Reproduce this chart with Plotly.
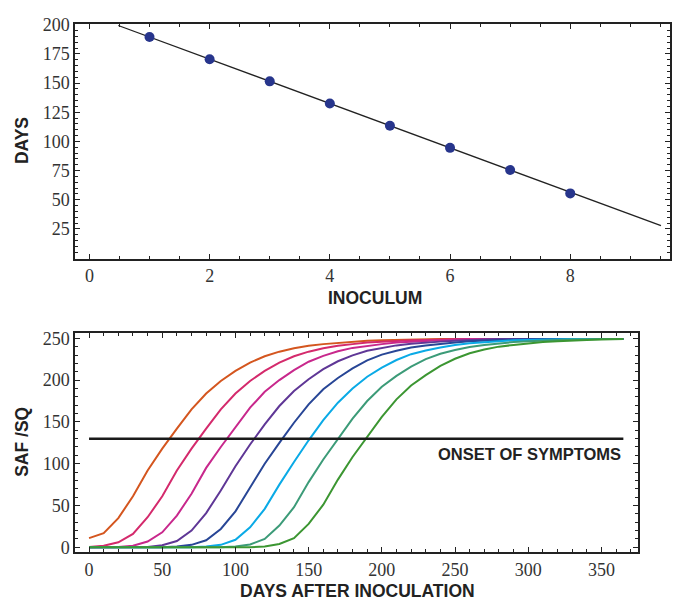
import plotly.graph_objects as go

# --- top panel: days to onset vs inoculum ---
inoculum = [1, 2, 3, 4, 5, 6, 7, 8]
onset_days = [189.5, 170.5, 151.5, 132.5, 113.5, 94.5, 75.5, 55.5]
fit_x = [0.48, 9.51]
fit_y = [199.4, 27.8]

# --- bottom panel: SAF/SQ vs days after inoculation ---
days = [0, 10, 20, 30, 40, 50, 60, 70, 80, 90, 100, 110, 120, 130, 140, 150, 160, 170, 180,
        190, 200, 210, 220, 230, 240, 250, 260, 270, 280, 290, 300, 310, 320, 330, 340, 350, 360, 365]

saf_inoc8 = [11, 17, 35, 61, 92, 118, 142, 165, 184, 199, 211, 221, 228.5, 234, 238, 241, 243, 244.5, 246,
             247, 247.5, 248, 248.5, 249, 249, 249, 249, 249, 249, 249, 249, 249, 249, 249, 249, 249, 249, 249]
saf_inoc7 = [0.5, 2, 6, 16, 36, 61, 92, 118, 142, 165, 184, 199, 211, 221, 228.5, 234, 238, 241, 243,
             245, 246, 247, 247.5, 248, 248.5, 249, 249, 249, 249, 249, 249, 249, 249, 249, 249, 249, 249, 249]
saf_inoc6 = [0, 0, 0.5, 2, 7, 18, 38, 64, 95, 120, 144, 167, 186, 200, 212, 222, 229, 234.5, 238.5,
             241, 243, 245, 246, 247, 248, 248.5, 249, 249, 249, 249, 249, 249, 249, 249, 249, 249, 249, 249]
saf_inoc5 = [0, 0, 0, 0, 0.5, 2.5, 7.5, 20, 41, 68, 97, 123, 147, 169, 187, 201, 213, 222.5, 229.5,
             235, 238.5, 241.5, 243.5, 245, 246, 247, 248, 248.5, 249, 249, 249, 249, 249, 249, 249, 249, 249, 249]
saf_inoc4 = [0, 0, 0, 0, 0, 0, 1, 3, 8.5, 22, 43, 71, 100, 125, 149, 171, 189, 202.5, 214,
             223.5, 230.5, 235, 239, 241.5, 243.5, 245, 246.5, 247.5, 248, 248.5, 249, 249, 249, 249, 249, 249, 249, 249]
saf_inoc3 = [0, 0, 0, 0, 0, 0, 0, 0, 1, 3, 9, 24, 46, 75, 102, 128, 152, 173, 190,
             204, 215, 224, 231, 235.5, 239, 242, 244, 245.5, 246.5, 247.5, 248, 248.5, 249, 249, 249, 249, 249, 249]
saf_inoc2 = [0, 0, 0, 0, 0, 0, 0, 0, 0, 0, 1, 3.5, 10, 26, 48, 78, 105, 130, 154,
             175, 192, 205, 216, 225, 231.5, 236, 239.5, 242, 244, 245.5, 246.5, 247.5, 248, 248.5, 249, 249, 249, 249]
saf_inoc1 = [0, 0, 0, 0, 0, 0, 0, 0, 0, 0, 0, 0, 1, 4, 11, 28, 51, 81, 108,
             132, 156, 177, 193.5, 206, 217, 225.5, 232, 236.5, 240, 242, 244, 245.5, 246.5, 247.5, 248, 248.5, 249, 249]

curves = [
    (saf_inoc8, "#D4561F"),
    (saf_inoc7, "#D42A6C"),
    (saf_inoc6, "#C8288C"),
    (saf_inoc5, "#5F3796"),
    (saf_inoc4, "#284696"),
    (saf_inoc3, "#0AAAE6"),
    (saf_inoc2, "#3C9B78"),
    (saf_inoc1, "#3C9632"),
]

onset_x = [0, 365]
onset_y = [130, 130]

# page body adds an 8px margin, so the figure is drawn 8px smaller
OFF = 8
W, H = 681 - OFF, 607 - OFF


def px(x):
    return (x - OFF) / W


def py(y):
    return 1 - (y - OFF) / H


fig = go.Figure()

fig.add_trace(go.Scatter(x=fit_x, y=fit_y, mode="lines",
                         line=dict(color="#222", width=1.3),
                         xaxis="x", yaxis="y", showlegend=False))
fig.add_trace(go.Scatter(x=inoculum, y=onset_days, mode="markers",
                         marker=dict(color="#27358C", size=10),
                         xaxis="x", yaxis="y", showlegend=False))

for vals, color in curves:
    fig.add_trace(go.Scatter(x=days, y=vals, mode="lines",
                             line=dict(color=color, width=2),
                             xaxis="x2", yaxis="y2", showlegend=False))

fig.add_trace(go.Scatter(x=onset_x, y=onset_y, mode="lines",
                         line=dict(color="#1a1a1a", width=2.5),
                         xaxis="x2", yaxis="y2", showlegend=False))

tick_font = dict(family="Liberation Serif, Times New Roman, serif", size=18, color="#333")
axis_common = dict(
    showline=True, linecolor="#222", linewidth=1.5, mirror="ticks",
    ticks="inside", ticklen=5, tickwidth=1.2, tickcolor="#222",
    showgrid=False, zeroline=False, tickfont=tick_font,
)

fig.update_layout(
    width=W, height=H,
    margin=dict(l=0, r=0, t=0, b=0),
    paper_bgcolor="white", plot_bgcolor="white",
    xaxis=dict(domain=[px(75), px(670)], range=[-0.24, 9.66], anchor="y",
               tickvals=[0, 2, 4, 6, 8],
               minor=dict(ticks="inside", ticklen=3, tickcolor="#222", dtick=0.5, tick0=0, showgrid=False),
               **axis_common),
    yaxis=dict(domain=[py(255.5), py(15.5)], range=[-0.5, 200.4], anchor="x",
               tickvals=[25, 50, 75, 100, 125, 150, 175, 200],
               minor=dict(ticks="inside", ticklen=3, tickcolor="#222", dtick=5, tick0=0, showgrid=False),
               **axis_common),
    xaxis2=dict(domain=[px(75), px(638)], range=[-9.6, 375], anchor="y2",
                tickvals=[0, 50, 100, 150, 200, 250, 300, 350],
                minor=dict(ticks="inside", ticklen=3, tickcolor="#222", dtick=10, tick0=0, showgrid=False),
                **axis_common),
    yaxis2=dict(domain=[py(556), py(332)], range=[-5.8, 255.8], anchor="x2",
                tickvals=[0, 50, 100, 150, 200, 250],
                minor=dict(ticks="inside", ticklen=3, tickcolor="#222", dtick=10, tick0=0, showgrid=False),
                **axis_common),
)

title_font = dict(family="Liberation Sans, Arial, sans-serif", size=17.5, color="#222", weight="bold")
labels = [
    ("DAYS", 22, 135, -90),
    ("INOCULUM", 375, 296, 0),
    ("SAF /SQ", 22, 443, -90),
    ("DAYS AFTER INOCULATION", 357, 596, 0),
]
for text, x, y, angle in labels:
    fig.add_annotation(text=text, x=px(x), y=py(y), xref="paper", yref="paper",
                       xanchor="center", yanchor="middle", textangle=angle,
                       showarrow=False, font=title_font)

fig.add_annotation(text="ONSET OF SYMPTOMS", x=365, y=112, xref="x2", yref="y2",
                   xanchor="right", yanchor="middle", showarrow=False,
                   font=dict(family="Liberation Sans, Arial, sans-serif", size=16.5, color="#222", weight="bold"))

fig.write_html("out.html")
